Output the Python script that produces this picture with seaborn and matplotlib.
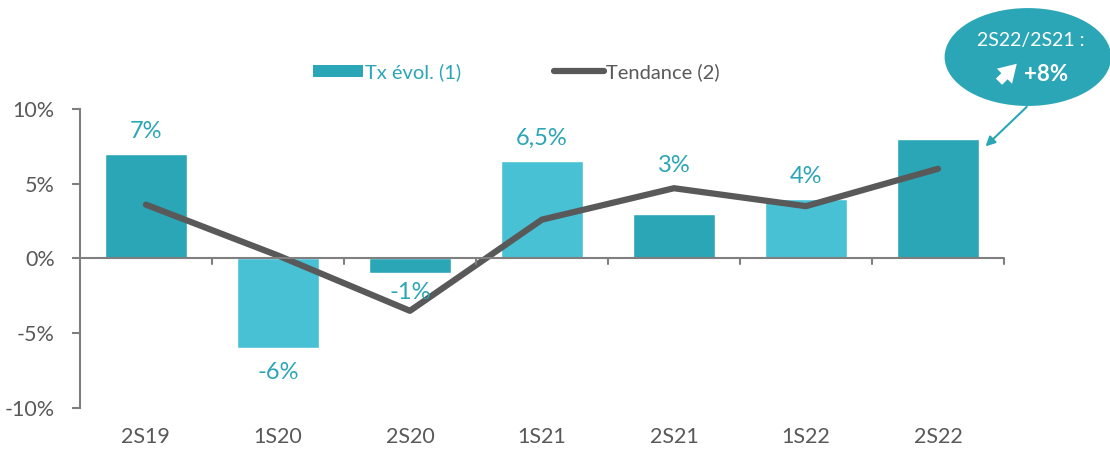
import matplotlib
matplotlib.use("Agg")
import matplotlib.pyplot as plt
import seaborn as sns
from matplotlib.patches import Ellipse, Patch
from matplotlib.lines import Line2D
from matplotlib.ticker import FuncFormatter

sns.set_style("white")
plt.rcParams["font.family"] = ["Lato", "DejaVu Sans"]

# data
periods = ["2S19", "1S20", "2S20", "1S21", "2S21", "1S22", "2S22"]
evolution = [7, -6, -1, 6.5, 3, 4, 8]
trend = [3.6, 0.2, -3.5, 2.6, 4.7, 3.5, 6.0]
bar_labels = ["7%", "-6%", "-1%", "6,5%", "3%", "4%", ""]

dark_teal = "#2ba6b6"
light_teal = "#49c1d5"
grey = "#595959"
axis_grey = "#7f7f7f"
bar_colors = [dark_teal, light_teal, dark_teal, light_teal, dark_teal, light_teal, dark_teal]

fig = plt.figure(figsize=(11.1, 4.49), dpi=100)
ax = fig.add_axes([0.072, 0.0913, 0.8325, 0.666])

sns.barplot(x=periods, y=evolution, hue=periods, palette=bar_colors,
            legend=False, width=0.62, saturation=1, ax=ax)
sns.lineplot(x=list(range(len(periods))), y=trend, color=grey, linewidth=4.5,
             sort=False, ax=ax)

ax.set_xlim(-0.5, len(periods) - 0.5)
ax.set_ylim(-10, 10)
ax.set_yticks([-10, -5, 0, 5, 10])
ax.yaxis.set_major_formatter(FuncFormatter(lambda v, p: f"{v:.0f}%"))

for s in ["top", "right", "bottom"]:
    ax.spines[s].set_visible(False)
ax.spines["left"].set_color(axis_grey)
ax.spines["left"].set_linewidth(1.5)
ax.tick_params(axis="y", direction="out", length=6, width=1.5, color=axis_grey,
               labelcolor=grey, labelsize=15.5, pad=12, left=True)
ax.tick_params(axis="x", length=0, labelcolor=grey, labelsize=15.5, pad=14)
ax.set_xlabel("")
ax.set_ylabel("")

# zero line with category ticks
ax.axhline(0, color=axis_grey, linewidth=1.5, zorder=3)
for b in [i + 0.5 for i in range(len(periods))]:
    ax.plot([b, b], [0, -0.4], color=axis_grey, linewidth=1.5, zorder=3,
            clip_on=False)

# data labels (the 3% label is lifted above the trend line, as in the source)
nudge = {4: 1.75, 1: -0.35}
for i, (v, lab) in enumerate(zip(evolution, bar_labels)):
    if not lab:
        continue
    if v >= 0:
        ax.text(i, v + 0.8 + nudge.get(i, 0), lab, ha="center", va="bottom",
                color=dark_teal, fontsize=17)
    else:
        ax.text(i, v - 0.6 + nudge.get(i, 0), lab, ha="center", va="top",
                color=dark_teal, fontsize=17)

# legend
handles = [Patch(facecolor=dark_teal, edgecolor="none"),
           Line2D([0], [0], color=grey, linewidth=4.5, solid_capstyle="round")]
leg = fig.legend(handles, ["Tx évol. (1)", "Tendance (2)"], ncol=2, frameon=False,
                 loc="center", bbox_to_anchor=(0.465, 0.84), fontsize=14.5,
                 handlelength=2.5, handleheight=0.55, handletextpad=0.1,
                 columnspacing=4.6)
leg.get_texts()[0].set_color(dark_teal)
leg.get_texts()[1].set_color(grey)

# callout bubble
ell = Ellipse((0.926, 0.873), 0.15, 0.218, transform=fig.transFigure,
              facecolor=dark_teal, edgecolor="none")
fig.add_artist(ell)
fig.text(0.929, 0.91, "2S22/2S21 :", ha="center", va="center", color="white",
         fontsize=14)
fig.text(0.942, 0.833, "+8%", ha="center", va="center", color="white",
         fontsize=16, fontweight="bold")
fig.add_artist(plt.annotate(
    "", xy=(0.916, 0.858), xycoords="figure fraction",
    xytext=(0.9, 0.818), textcoords="figure fraction",
    arrowprops=dict(arrowstyle="simple,head_width=1.1,head_length=0.9,tail_width=0.45",
                    color="white", lw=0, shrinkA=0, shrinkB=0, mutation_scale=14)))
ax.annotate("", xy=(6.36, 7.5), xycoords="data",
            xytext=(0.925, 0.762), textcoords="figure fraction",
            arrowprops=dict(arrowstyle="-|>", color=dark_teal, lw=1.5,
                            mutation_scale=14, shrinkA=0, shrinkB=0))

fig.savefig("out.png", dpi=100)
